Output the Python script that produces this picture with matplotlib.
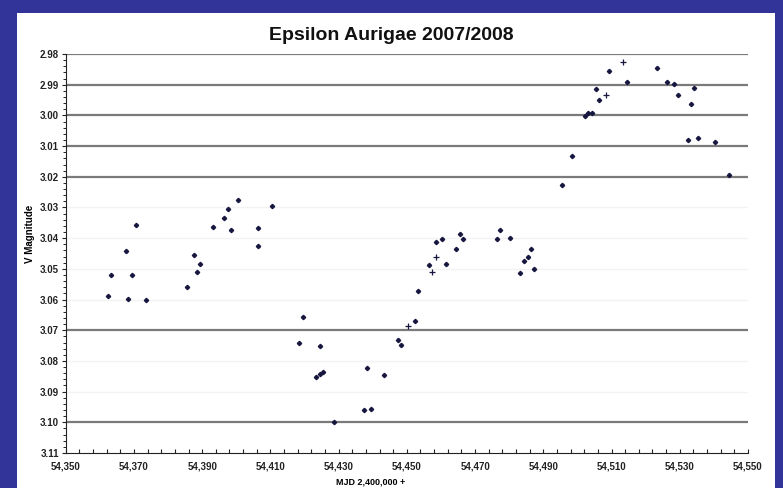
import matplotlib
matplotlib.use("Agg")
import matplotlib.pyplot as plt
from matplotlib.patches import Rectangle
from matplotlib.ticker import MultipleLocator, FixedLocator, FuncFormatter
import numpy as np

plt.rcParams['font.family'] = ['Liberation Sans', 'DejaVu Sans']

mjd = [54362.4, 54363.4, 54367.6, 54368.4, 54369.4, 54370.6, 54373.6,
       54385.5, 54387.5, 54388.6, 54389.4, 54393.3, 54396.4, 54397.5,
       54398.5, 54400.6, 54406.3, 54406.3, 54410.5,
       54418.3, 54419.5, 54423.4, 54424.4, 54424.4, 54425.5, 54428.6,
       54437.5, 54438.4, 54439.4, 54443.4, 54447.5, 54448.3, 54452.5,
       54453.4, 54456.4, 54458.5, 54460.4, 54461.6, 54464.5, 54465.5,
       54466.4, 54476.5, 54477.4, 54480.3, 54483.3, 54484.3, 54485.4,
       54486.4, 54487.2, 54495.4, 54498.5, 54502.3, 54503.2, 54504.4,
       54505.3, 54506.2, 54509.3, 54514.4, 54523.3, 54526.4, 54528.3,
       54529.4, 54532.3, 54533.3, 54534.3, 54535.3, 54540.4, 54544.3]
vmag = [3.0588, 3.0519, 3.0442, 3.0599, 3.0521, 3.0357, 3.0600,
        3.0559, 3.0455, 3.0511, 3.0483, 3.0363, 3.0335, 3.0306,
        3.0375, 3.0277, 3.0366, 3.0425, 3.0295,
        3.0741, 3.0658, 3.0853, 3.0752, 3.0842, 3.0837, 3.1000,
        3.0960, 3.0822, 3.0957, 3.0846, 3.0733, 3.0747, 3.0670,
        3.0573, 3.0489, 3.0412, 3.0402, 3.0484, 3.0436, 3.0387,
        3.0404, 3.0402, 3.0373, 3.0398, 3.0514, 3.0473, 3.0460,
        3.0435, 3.0499, 3.0228, 3.0132, 3.0003, 2.9992, 2.9992,
        2.9914, 2.9951, 2.9856, 2.9890, 2.9846, 2.9890, 2.9897,
        2.9934, 3.0081, 2.9964, 2.9912, 3.0074, 3.0086, 3.0195]

# second observer, drawn with plus signs
mjd_plus = [54450.3, 54457.4, 54458.5, 54508.3, 54513.4]
vmag_plus = [3.0685, 3.0511, 3.0462, 2.9935, 2.9825]

x_ticks = np.arange(54350, 54551, 20)
grid_dark = [2.98, 2.99, 3.00, 3.01, 3.02, 3.07, 3.10]
grid_faint = [3.03, 3.04, 3.05, 3.06, 3.08, 3.09]

fig = plt.figure(figsize=(7.83, 4.88), dpi=100)
fig.patch.set_facecolor('#33349a')
fig.patches.append(Rectangle((17 / 783, 0), 758 / 783, 1 - 13 / 488,
                             transform=fig.transFigure, facecolor='white',
                             edgecolor='none', zorder=-10))

ax = fig.add_axes([0.0839, 0.0717, 0.8714, 0.8176])
ax.set_facecolor('none')

for g in grid_dark:
    ax.axhline(g, color='#7a7a7a', lw=1.6, zorder=1)
for g in grid_faint:
    ax.axhline(g, color='#f3f3f3', lw=1.0, zorder=1)

ax.plot(mjd, vmag, linestyle='none', marker='D', markersize=2.2,
        color='#16163f', zorder=3)
ax.plot(mjd_plus, vmag_plus, linestyle='none', marker='+', markersize=5,
        markeredgewidth=0.9, color='#16163f', zorder=3)

ax.set_xlim(54350, 54550)
ax.set_ylim(3.11, 2.98)

ax.xaxis.set_major_locator(FixedLocator(x_ticks))
ax.xaxis.set_minor_locator(FixedLocator(np.arange(54350, 54551, 4)))
ax.yaxis.set_major_locator(MultipleLocator(0.01))
ax.yaxis.set_minor_locator(MultipleLocator(0.002))
ax.xaxis.set_major_formatter(FuncFormatter(lambda v, p: f"{int(round(v)):,}"))
ax.yaxis.set_major_formatter(FuncFormatter(lambda v, p: f"{v:.2f}"))

for s in ['top', 'right']:
    ax.spines[s].set_visible(False)
ax.spines['left'].set_color('#222222')
ax.spines['bottom'].set_color('#222222')

ax.tick_params(axis='x', which='both', direction='in', length=3, width=0.8,
               labelsize=7, pad=6, colors='#222222')
ax.tick_params(axis='y', which='major', direction='out', length=3, width=0.8,
               labelsize=7, pad=2, colors='#222222')
ax.tick_params(axis='y', which='minor', direction='out', length=2, width=0.6)
for lab in ax.get_xticklabels() + ax.get_yticklabels():
    lab.set_fontweight('bold')

ax.set_ylabel("V Magnitude", fontsize=7, fontweight='bold')
ax.yaxis.set_label_coords(-0.045, 0.55)
ax.set_xlabel("MJD 2,400,000 +", fontsize=6.5, fontweight='bold')
ax.xaxis.set_label_coords(0.447, -0.062)

fig.text(0.5, 1 - 35 / 488, "Epsilon Aurigae 2007/2008", ha='center',
         va='center', fontsize=14, fontweight='bold', color='#111111')

fig.savefig("out.png", dpi=100, facecolor=fig.get_facecolor())
